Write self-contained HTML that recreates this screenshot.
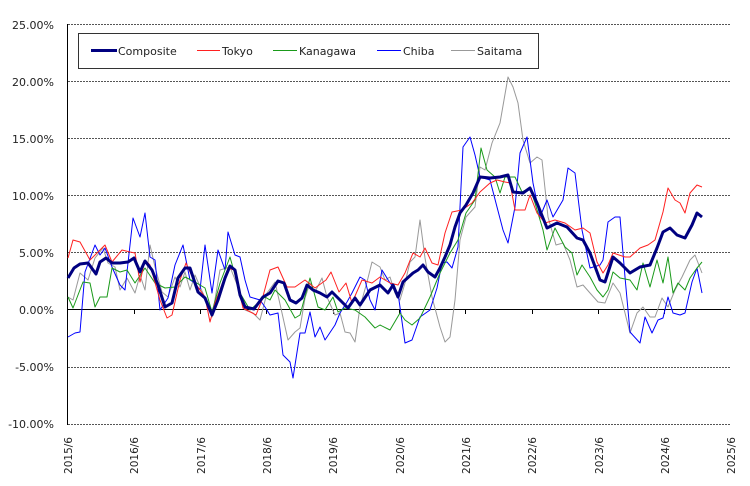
<!DOCTYPE html>
<html><head><meta charset="utf-8"><style>
html,body{margin:0;padding:0;background:#fff;}
svg{display:block;font-family:"DejaVu Sans","Liberation Sans",sans-serif;}
</style></head><body>
<svg width="750" height="486" viewBox="0 0 750 486" xmlns="http://www.w3.org/2000/svg">
<rect width="750" height="486" fill="#fff"/>
<g stroke="#555" stroke-width="1" stroke-dasharray="2,1" fill="none">
<line x1="68" y1="24.5" x2="731" y2="24.5"/>
<line x1="68" y1="81.5" x2="731" y2="81.5"/>
<line x1="68" y1="138.5" x2="731" y2="138.5"/>
<line x1="68" y1="195.5" x2="731" y2="195.5"/>
<line x1="68" y1="252.5" x2="731" y2="252.5"/>
<line x1="68" y1="367.5" x2="731" y2="367.5"/>
<line x1="68" y1="424.5" x2="731" y2="424.5"/>
</g>
<line x1="67.5" y1="24" x2="67.5" y2="425" stroke="#000" stroke-width="1"/>
<line x1="68" y1="309.5" x2="731" y2="309.5" stroke="#000" stroke-width="1"/>
<g stroke="#000" stroke-width="1">
<line x1="134.5" y1="310" x2="134.5" y2="314"/><line x1="200.5" y1="310" x2="200.5" y2="314"/>
<line x1="266.5" y1="310" x2="266.5" y2="314"/><line x1="333.5" y1="310" x2="333.5" y2="314"/>
<line x1="399.5" y1="310" x2="399.5" y2="314"/><line x1="465.5" y1="310" x2="465.5" y2="314"/>
<line x1="532.5" y1="310" x2="532.5" y2="314"/><line x1="598.5" y1="310" x2="598.5" y2="314"/>
<line x1="664.5" y1="310" x2="664.5" y2="314"/>
</g>
<g font-size="11" fill="#222" text-anchor="end">
<text x="54" y="29">25.00%</text><text x="54" y="86">20.00%</text>
<text x="54" y="143">15.00%</text><text x="54" y="200">10.00%</text>
<text x="54" y="257">5.00%</text><text x="54" y="314">0.00%</text>
<text x="54" y="371">-5.00%</text><text x="54" y="428">-10.00%</text>
</g>
<g font-size="10.5" fill="#222" text-anchor="end">
<text transform="translate(72,437) rotate(-90)">2015/6</text>
<text transform="translate(138,437) rotate(-90)">2016/6</text>
<text transform="translate(205,437) rotate(-90)">2017/6</text>
<text transform="translate(271,437) rotate(-90)">2018/6</text>
<text transform="translate(337,437) rotate(-90)">2019/6</text>
<text transform="translate(404,437) rotate(-90)">2020/6</text>
<text transform="translate(470,437) rotate(-90)">2021/6</text>
<text transform="translate(536,437) rotate(-90)">2022/6</text>
<text transform="translate(603,437) rotate(-90)">2023/6</text>
<text transform="translate(669,437) rotate(-90)">2024/6</text>
<text transform="translate(735,437) rotate(-90)">2025/6</text>
</g>
<g fill="none" stroke-width="1" stroke-linejoin="round">
<polyline stroke="#999" points="68,297 73,300 80,273 88,280 95,258 103,248 108,263 115,267 120,290 127,278 135,293 140,275 145,290 150,245 155,267 162,292 168,297 175,277 180,287 185,272 190,290 195,275 205,298 212,317 220,270 230,267 238,287 245,310 253,313 260,320 267,293 275,282 282,313 288,340 295,332 300,328 305,298 310,283 315,292 322,278 327,297 335,315 340,313 345,332 350,333 355,342 360,307 367,282 372,262 380,267 385,280 390,277 395,293 400,300 405,283 410,262 415,257 420,220 425,258 432,297 440,327 445,342 450,337 455,300 460,240 466,217 475,207 480,167 485,170 492,143 500,123 508,77 513,87 518,103 523,140 530,163 537,157 542,160 548,217 556,245 563,243 570,260 577,287 583,285 590,293 598,302 605,303 613,283 620,293 630,333 637,313 643,307 650,317 655,317 662,298 668,307 675,290 682,277 690,260 695,255 702,273"/>
<polyline stroke="#0000ff" points="68,337 75,333 80,332 85,272 95,245 100,255 105,248 112,267 120,285 125,290 133,218 140,237 145,213 150,257 155,260 160,310 168,298 175,265 183,245 190,280 195,283 200,290 205,245 212,293 218,250 225,270 228,232 235,255 240,257 245,280 250,297 260,300 265,307 270,315 278,313 283,355 290,362 293,378 300,333 305,333 310,312 315,337 320,327 325,340 335,325 340,313 347,302 352,293 360,277 365,280 370,300 375,310 382,270 390,283 398,293 405,343 412,340 420,317 430,310 437,288 442,263 447,262 452,268 458,247 463,147 470,137 475,155 480,177 490,180 497,207 503,230 508,243 515,207 520,153 527,137 533,183 540,217 547,200 553,217 563,200 568,168 575,173 582,230 590,268 600,265 603,260 608,222 615,217 620,217 625,277 630,332 640,343 645,317 652,333 658,320 663,318 668,297 673,313 680,315 685,313 692,282 697,268 702,293"/>
<polyline stroke="#1a9a1a" points="68,297 73,308 83,282 90,283 95,307 100,297 107,297 112,268 120,272 127,270 135,283 145,268 155,283 165,288 175,287 185,277 195,282 205,288 212,312 220,283 230,257 240,293 250,310 258,303 265,297 270,300 275,290 285,300 295,318 300,315 310,278 318,307 325,310 333,297 338,312 345,308 355,310 365,317 375,328 380,325 390,330 400,313 405,320 412,325 420,318 430,297 440,273 450,253 458,240 466,213 475,200 481,148 487,170 495,177 500,193 505,177 515,177 522,192 530,188 535,203 543,230 547,250 555,228 565,247 572,253 577,275 582,265 590,277 597,290 603,297 608,290 613,272 620,278 630,280 637,290 643,263 650,287 657,260 663,283 668,257 673,293 678,283 685,290 690,278 697,268 702,262"/>
<polyline stroke="#ff2020" points="68,258 73,240 80,242 90,260 100,250 105,245 112,262 122,250 130,252 135,253 140,282 145,260 150,265 160,300 167,318 172,315 180,280 186,263 195,283 205,297 210,322 215,303 228,268 234,270 243,308 256,315 262,300 270,270 278,267 287,287 295,287 305,280 315,288 326,280 331,272 339,292 346,283 352,303 362,280 372,283 380,277 390,283 398,285 405,273 413,253 420,257 425,248 432,263 438,265 445,233 452,212 462,210 472,203 480,192 490,183 497,180 505,182 510,183 515,210 525,210 530,195 537,213 545,223 555,220 565,223 575,230 583,228 590,233 597,262 603,273 608,265 613,253 625,257 630,257 640,248 648,245 655,240 663,212 668,188 675,200 680,203 685,213 690,193 697,185 702,187"/>
<polyline stroke="#000080" stroke-width="3" points="68,278 74,268 80,264 88,263 96,274 100,262 106,258 112,263 120,263 128,262 134,258 140,272 145,261 152,270 158,285 165,307 172,303 178,278 185,268 190,268 198,292 205,298 212,315 218,300 225,278 230,266 235,270 240,295 245,307 254,309 263,297 270,293 278,281 284,283 290,300 296,303 302,298 307,285 313,290 320,293 327,297 332,292 340,300 348,308 355,298 360,305 370,290 380,285 388,293 393,285 398,297 403,282 413,273 418,270 423,265 428,272 435,277 440,268 445,257 450,245 455,227 460,213 466,205 473,193 480,177 490,178 500,177 508,175 513,192 523,193 530,188 537,203 547,228 557,223 567,227 577,238 583,240 590,253 600,280 605,282 613,257 620,263 630,273 640,267 650,265 657,248 663,232 670,228 677,235 685,238 692,225 697,213 702,217"/>
</g>
<rect x="78.5" y="33.5" width="460" height="35" fill="#fff" stroke="#333" stroke-width="1"/>
<g font-size="11" fill="#222">
<line x1="91" y1="50.5" x2="117" y2="50.5" stroke="#000080" stroke-width="3"/><text x="118" y="55">Composite</text>
<line x1="197" y1="50.5" x2="220" y2="50.5" stroke="#ff2020"/><text x="222" y="55">Tokyo</text>
<line x1="273" y1="50.5" x2="297" y2="50.5" stroke="#1a9a1a"/><text x="299" y="55">Kanagawa</text>
<line x1="377" y1="50.5" x2="401" y2="50.5" stroke="#0000ff"/><text x="403" y="55">Chiba</text>
<line x1="451" y1="50.5" x2="475" y2="50.5" stroke="#999"/><text x="477" y="55">Saitama</text>
</g>
</svg>
</body></html>
